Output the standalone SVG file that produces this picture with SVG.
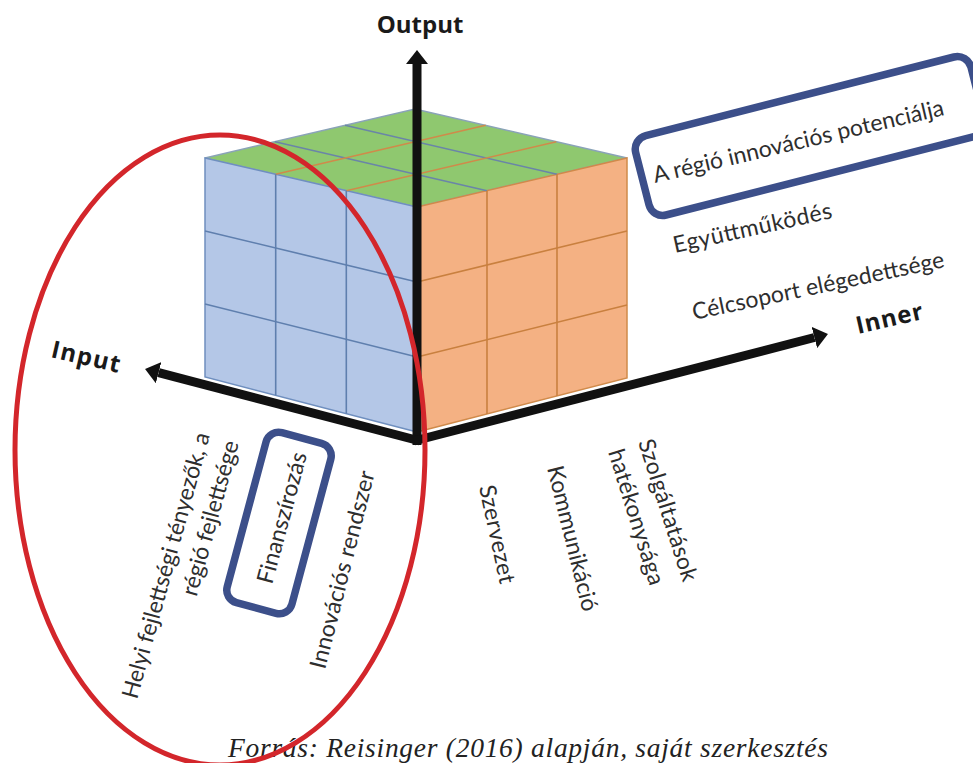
<svg xmlns="http://www.w3.org/2000/svg" width="973" height="763" viewBox="0 0 973 763">
<style>
.lbl{font-family:Lato,"Open Sans","Liberation Sans",sans-serif;font-size:23px;fill:#2e2e2e}
.ax{font-family:"Open Sans","Liberation Sans",sans-serif;font-size:24px;font-weight:bold;fill:#1a1a1a}
.axis{stroke:#111;stroke-width:9;fill:none}
.gb{stroke:#5f7fae;stroke-width:1.6;fill:none}
.go{stroke:#c9803f;stroke-width:1.6;fill:none}
.gt{stroke:#6a85a8;stroke-width:1.4;fill:none}
.gto{stroke:#d08a4a;stroke-width:1.4;fill:none}
.hl{fill:none;stroke:#3c4f8a;stroke-width:7.5}
</style>
<defs>
<marker id="ah" viewBox="0 -11 14 22" refX="0" refY="0" markerWidth="14" markerHeight="22" markerUnits="userSpaceOnUse" orient="auto">
<path d="M0,-11 L14,0 L0,11 z" fill="#111"/>
</marker>
</defs>
<rect width="973" height="763" fill="#ffffff"/>

<g id="cube">
<polygon points="417,207 205,158 415,109 627,158" fill="#8fc86f" stroke="#8aa3b8" stroke-width="1.5"/>
<polygon points="205,158 417,207 417,432 205,377" fill="#b4c7e7" stroke="#6f8fbf" stroke-width="1.5"/>
<polygon points="417,207 627,158 627,378 417,432" fill="#f4b183" stroke="#d08a4a" stroke-width="1.5"/>
<line class="gt" x1="487" y1="190.7" x2="275" y2="141.7"/>
<line class="gt" x1="557" y1="174.3" x2="345" y2="125.3"/>
<line class="gto" x1="346.3" y1="190.7" x2="556.3" y2="141.7"/>
<line class="gto" x1="275.7" y1="174.3" x2="485.7" y2="125.3"/>
<line class="gb" x1="275.7" y1="174.3" x2="275.7" y2="395.3"/>
<line class="gb" x1="346.3" y1="190.7" x2="346.3" y2="413.7"/>
<line class="gb" x1="205" y1="231" x2="417" y2="282"/>
<line class="gb" x1="205" y1="304" x2="417" y2="357"/>
<line class="go" x1="487" y1="190.7" x2="487" y2="414"/>
<line class="go" x1="557" y1="174.3" x2="557" y2="396"/>
<line class="go" x1="417" y1="282" x2="627" y2="231"/>
<line class="go" x1="417" y1="357" x2="627" y2="305"/>
</g>

<g id="connectors">
<line class="axis" x1="417" y1="445" x2="417" y2="64" marker-end="url(#ah)"/>
<line class="axis" x1="420" y1="441" x2="158.6" y2="372.6" marker-end="url(#ah)"/>
<line class="axis" x1="414" y1="441" x2="814.4" y2="337.5" marker-end="url(#ah)"/>
</g>

<g id="axis-labels">
<text class="ax" x="420" y="33" text-anchor="middle" font-size="25">Output</text>
<text class="ax" transform="translate(50,357) rotate(13)" textLength="70">Input</text>
<text class="ax" transform="translate(858,334) rotate(-13)" textLength="68">Inner</text>
</g>

<g id="input-labels">
<text class="lbl" transform="translate(137,700) rotate(-74.6)" textLength="275">Helyi fejlettségi tényezők, a</text>
<text class="lbl" transform="translate(239,443) rotate(-74.6)" text-anchor="end" textLength="160">régió fejlettsége</text>
<text class="lbl" transform="translate(272,585) rotate(-74.9)" textLength="135">Finanszírozás</text>
<text class="lbl" transform="translate(325,670) rotate(-75.8)" textLength="203">Innovációs rendszer</text>
</g>

<g id="inner-labels">
<text class="lbl" transform="translate(479,487) rotate(77.9)" textLength="100">Szervezet</text>
<text class="lbl" transform="translate(547,468) rotate(76.1)" textLength="149">Kommunikáció</text>
<text class="lbl" transform="translate(638,442) rotate(72.3)" textLength="148">Szolgáltatások</text>
<text class="lbl" transform="translate(608,452) rotate(72.7)" textLength="141">hatékonysága</text>
</g>

<g id="output-labels">
<text class="lbl" transform="translate(655,183) rotate(-13.2)" textLength="298">A régió innovációs potenciálja</text>
<text class="lbl" transform="translate(675,253) rotate(-12.5)" textLength="162">Együttműködés</text>
<text class="lbl" transform="translate(694,320) rotate(-11.9)" textLength="257">Célcsoport elégedettsége</text>
</g>

<g id="highlight-potencial">
<rect class="hl" transform="translate(810,136) rotate(-14.3)" x="-173" y="-41" width="346" height="82" rx="14"/>
</g>
<g id="highlight-finanszirozas">
<rect class="hl" transform="translate(279,523) rotate(-75)" x="-88" y="-33.5" width="176" height="67" rx="13"/>
</g>

<text id="caption" x="228" y="757" font-family="'Liberation Serif',serif" font-style="italic" font-size="27.5" fill="#222" textLength="600">Forrás: Reisinger (2016) alapján, saját szerkesztés</text>

<g id="input-ellipse">
<ellipse cx="220" cy="450" rx="205" ry="315" fill="none" stroke="#d3262b" stroke-width="5"/>
</g>
</svg>
